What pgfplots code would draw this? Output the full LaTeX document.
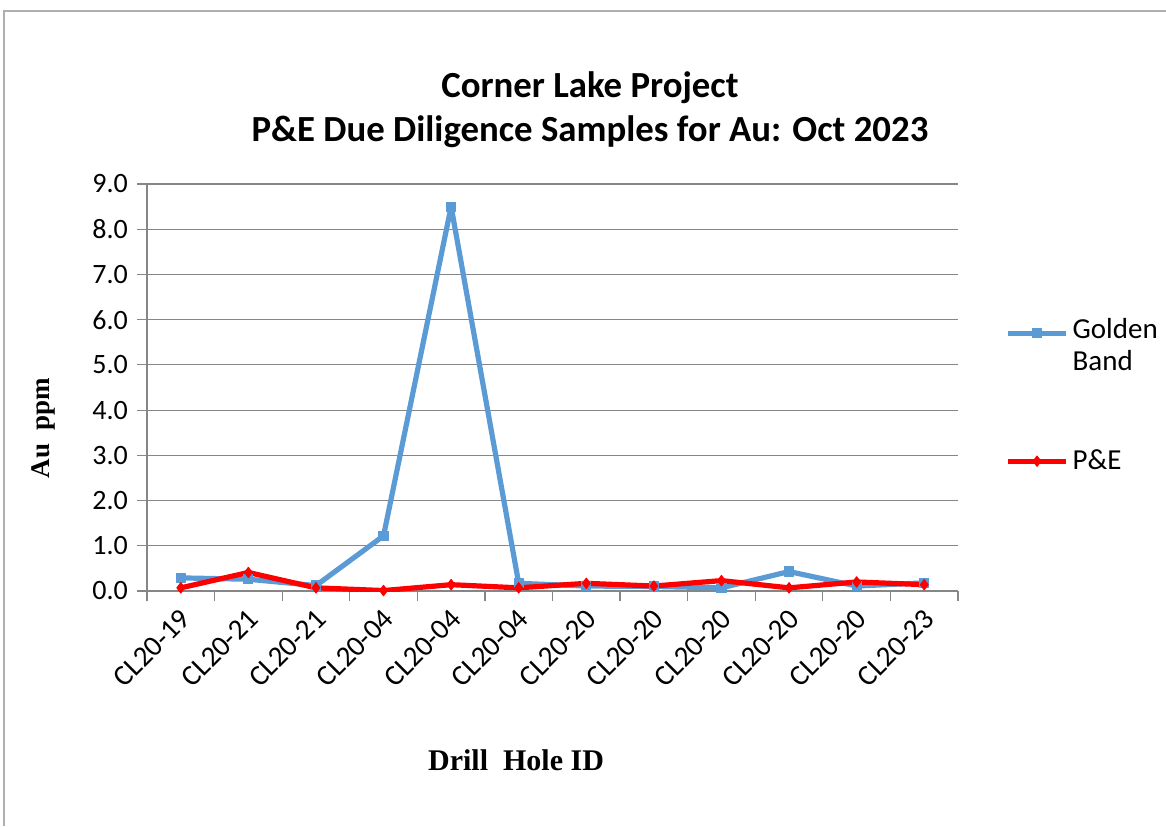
\documentclass[border=0pt]{standalone}
\usepackage{fontspec}
\setmainfont{Carlito}
\newfontfamily\tnr{Liberation Serif}
\usepackage{pgfplots}
\pgfplotsset{compat=1.18}
\definecolor{gbblue}{RGB}{91,155,213}
\definecolor{axisgray}{RGB}{134,134,134}
\definecolor{framegray}{RGB}{175,175,175}
% legend sample drawn level with the first line of a two-line entry
\pgfplotsset{raisedline/.style={legend image code/.code={\draw[mark repeat=2, mark phase=2, ##1]
    plot coordinates {(0pt,6.5pt) (14.5pt,6.5pt) (29pt,6.5pt)};}}}

\begin{document}
\begin{tikzpicture}
\path[use as bounding box] (0pt,0pt) rectangle (583pt,413pt);
\draw[framegray, line width=0.7pt] (2pt,0pt) -- (2pt,407.5pt) -- (583pt,407.5pt);
\node[font=\fontsize{18.4}{22}\selectfont\bfseries, align=center] at (295pt,358pt)
  {Corner Lake Project\\P\&E Due Diligence Samples for Au: Oct 2023};
\node[font=\tnr\fontsize{13.5}{16}\selectfont\bfseries, rotate=90] at (21.5pt,199pt) {Au\ \ ppm};
\node[font=\tnr\fontsize{15}{17}\selectfont\bfseries] at (258pt,33pt) {Drill\ \ Hole ID};

\begin{axis}[
  at={(73.5pt,117.5pt)}, anchor=south west,
  scale only axis, width=405.5pt, height=203.5pt,
  xmin=0.5, xmax=12.5, ymin=0, ymax=9,
  xtick={0.5,1.5,...,12.5},
  xticklabels={},
  extra x ticks={1,...,12},
  extra x tick labels={CL20-19,CL20-21,CL20-21,CL20-04,CL20-04,CL20-04,CL20-20,CL20-20,CL20-20,CL20-20,CL20-20,CL20-23},
  extra x tick style={major tick length=0pt,
    xticklabel style={font=\fontsize{14.5}{16}\selectfont, rotate=45, anchor=east, yshift=-10pt, xshift=-3pt}},
  ytick={0,1,...,9},
  ymajorgrids,
  grid style={axisgray, line width=0.6pt},
  axis x line*=bottom, axis y line*=left,
  axis line style={axisgray, line width=0.6pt, -},
  tick align=outside,
  major tick length=5pt,
  tick style={axisgray, line width=0.6pt},
  /pgf/number format/.cd, fixed, fixed zerofill, precision=1, assume math mode=true,
  /pgfplots/.cd,
  yticklabel style={font=\fontsize{14}{16}\selectfont, xshift=-1pt},
  legend style={at={(rel axis cs:1.058,0.68)}, anchor=north west, draw=none, fill=none,
    inner sep=0pt, font=\fontsize{14.5}{16}\selectfont,
    cells={anchor=west, align=left}, row sep=34pt},
  legend image code/.code={\draw[mark repeat=2, mark phase=2, #1]
    plot coordinates {(0pt,0pt) (14.5pt,0pt) (29pt,0pt)};},
]
\addplot[gbblue, line width=2.6pt, line join=round, mark=square*, mark size=2.3pt,
  mark options={line width=0.5pt}, raisedline]
  coordinates {(1,0.29) (2,0.26) (3,0.12) (4,1.22) (5,8.5) (6,0.17)
               (7,0.11) (8,0.10) (9,0.07) (10,0.43) (11,0.11) (12,0.18)};
\addlegendentry{Golden\\Band}
\addplot[red, line width=2.6pt, line join=round, mark=diamond*, mark size=2.6pt,
  mark options={line width=0.5pt}]
  coordinates {(1,0.07) (2,0.41) (3,0.07) (4,0.01) (5,0.14) (6,0.07)
               (7,0.17) (8,0.11) (9,0.23) (10,0.07) (11,0.20) (12,0.14)};
\addlegendentry{P\&E}
\end{axis}
\end{tikzpicture}
\end{document}
